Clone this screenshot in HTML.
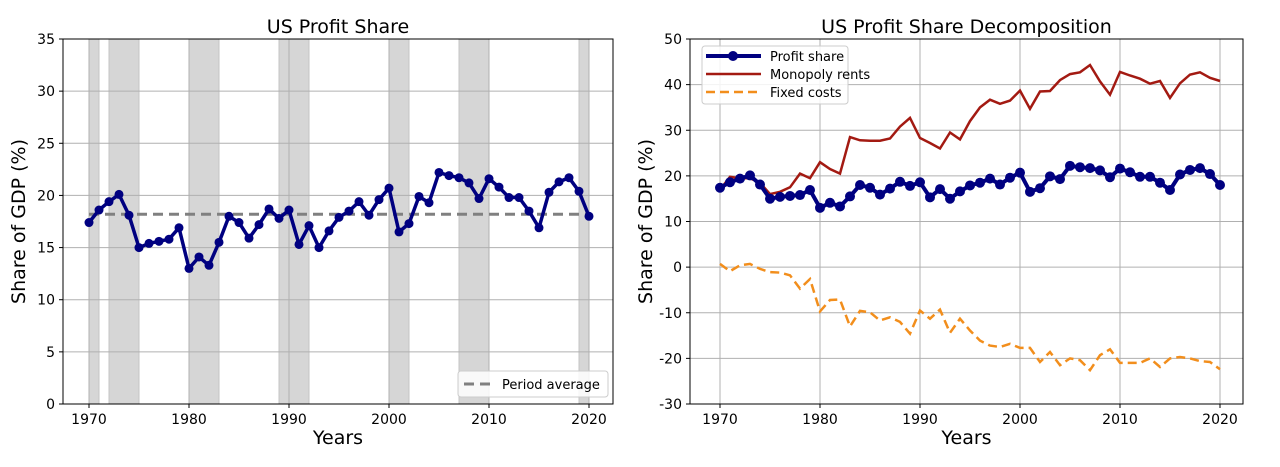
<!DOCTYPE html>
<html><head><meta charset="utf-8"><style>
body{margin:0;background:#fff;}
svg text{font-family:"DejaVu Sans","Liberation Sans",sans-serif;}
</style></head><body>
<svg width="1280" height="462" xmlns="http://www.w3.org/2000/svg">
<g id="left"></g>
<g id="right"></g>
</svg>
<script>
const years = Array.from({length:51},(_,i)=>1970+i);
const profitShare = [17.4,18.6,19.4,20.1,18.1,15.0,15.4,15.6,15.8,16.9,13.0,14.1,13.3,15.5,18.0,17.4,15.9,17.2,18.7,17.8,18.6,15.3,17.1,15.0,16.6,17.9,18.5,19.4,18.1,19.6,20.7,16.5,17.3,19.9,19.3,22.2,21.9,21.7,21.2,19.7,21.6,20.8,19.8,19.8,18.5,16.9,20.3,21.3,21.7,20.4,18.0];
const monopolyRents = [17,19.8,19.5,19.5,18.5,16,16.5,17.5,20.5,19.5,23,21.5,20.5,28.5,27.8,27.7,27.7,28.2,30.8,32.7,28.3,27.2,26,29.5,28,32,35,36.7,35.8,36.5,38.7,34.7,38.5,38.6,41,42.3,42.7,44.3,40.7,37.8,42.8,42,41.3,40.2,40.8,37.1,40.3,42.2,42.7,41.5,40.8];
const fixedCosts = [0.7,-0.9,0.4,0.7,-0.4,-1.1,-1.2,-1.8,-4.7,-2.6,-9.7,-7.2,-7.1,-13,-9.6,-9.9,-11.7,-11,-12,-14.6,-9.5,-11.3,-9.3,-14.4,-11.3,-13.9,-16.1,-17.2,-17.5,-16.8,-17.7,-17.7,-20.8,-18.6,-21.5,-20,-20.4,-22.6,-19.3,-18,-21,-21,-21,-20,-21.9,-20,-19.7,-20,-20.6,-20.8,-22.4];
const recessionStart = [1970,1972,1980,1989,2000,2007,2019];
const recessionEnd = [1971,1975,1983,1992,2002,2010,2020];
const periodAverage = 18.2;
const xTicks = [1970,1980,1990,2000,2010,2020];
const leftYTicks = [0,5,10,15,20,25,30,35];
const rightYTicks = [-30,-20,-10,0,10,20,30,40,50];

const NS="http://www.w3.org/2000/svg";
function mk(parent,tag,attrs,txt){const e=document.createElementNS(NS,tag);for(const k in attrs)e.setAttribute(k,attrs[k]);if(txt!==undefined)e.textContent=txt;parent.appendChild(e);return e;}

function drawAxes(g,L,R,T,B,x0,ymin,ymax,yTicks,title){
  const xs=y=>x0+(y-1970)*10;
  const ys=v=>B-(v-ymin)/(ymax-ymin)*(B-T);
  for(const t of xTicks){
    const l=mk(g,'line',{x1:xs(t),x2:xs(t),y1:T,y2:B,stroke:'#b0b0b0','stroke-width':1});
    
    
    const tk=mk(g,'line',{x1:xs(t),x2:xs(t),y1:B,y2:B+4,stroke:'#000'});
    
    
    const tx=mk(g,'text',{x:xs(t),y:B+20,'font-size':14,'text-anchor':'middle'},String(t));
    
    
  }
  for(const t of yTicks){
    const l=mk(g,'line',{x1:L,x2:R,y1:ys(t),y2:ys(t),stroke:'#b0b0b0','stroke-width':1});
    
    
    const tk=mk(g,'line',{x1:L-4,x2:L,y1:ys(t),y2:ys(t),stroke:'#000'});
    
    
    const tx=mk(g,'text',{x:L-8,y:ys(t)+5,'font-size':14,'text-anchor':'end'},String(t));
    
    
  }
  const tt=mk(g,'text',{x:(L+R)/2,y:T-6,'font-size':19,'text-anchor':'middle'},title);
  
  
  const xl=mk(g,'text',{x:(L+R)/2,y:B+40,'font-size':19,'text-anchor':'middle'},'Years');
  
  
  const yl=mk(g,'text',{x:0,y:0,'font-size':19,'text-anchor':'middle',transform:`translate(${L-38},${(T+B)/2}) rotate(-90)`},'Share of GDP (%)');
  
  
  return {xs,ys};
}
function frame(g,L,R,T,B){
  const f=mk(g,'rect',{x:L,y:T,width:R-L,height:B-T,fill:'none',stroke:'#000','stroke-width':1});
  
  
}
function path(xs,ys,vals){return vals.map((v,i)=>(i?'L':'M')+xs(years[i]).toFixed(1)+','+ys(v).toFixed(1)).join(' ');}

// Left chart
(function(){
  const g=document.getElementById('left');
  const L=63,R=613,T=39,B=404,X0=89;
  const xs0=y=>X0+(y-1970)*10;
  for(let i=0;i<recessionStart.length;i++){
    const r=mk(g,'rect',{x:xs0(recessionStart[i]),y:T,width:xs0(recessionEnd[i])-xs0(recessionStart[i]),height:B-T,fill:'#d6d6d6',stroke:'#c4c4c4'});
    
    
  }
  const {xs,ys}=drawAxes(g,L,R,T,B,X0,0,35,leftYTicks,'US Profit Share');
  const avg=mk(g,'line',{x1:xs(1970),x2:xs(2020),y1:ys(periodAverage),y2:ys(periodAverage),stroke:'#808080','stroke-width':3,'stroke-dasharray':'10,6'});
  
  
  const p=mk(g,'path',{d:path(xs,ys,profitShare),fill:'none',stroke:'#000080','stroke-width':3.5});
  
  
  profitShare.forEach((v,i)=>{
    const c=mk(g,'circle',{cx:xs(years[i]),cy:ys(v),r:4.5,fill:'#000080'});
    
    
  });
  frame(g,L,R,T,B);
  const lg=mk(g,'g',{});
  
  
  mk(lg,'rect',{x:458,y:371,width:150,height:26,rx:3,fill:'#fff','fill-opacity':0.85,stroke:'#ccc'});
  mk(lg,'line',{x1:464,x2:492,y1:384,y2:384,stroke:'#808080','stroke-width':3,'stroke-dasharray':'10,6'});
  const lt=mk(lg,'text',{x:502,y:389,'font-size':13},'Period average');
  
  
})();

// Right chart
(function(){
  const g=document.getElementById('right');
  const L=690,R=1243,T=39,B=404,X0=720;
  const {xs,ys}=drawAxes(g,L,R,T,B,X0,-30,50,rightYTicks,'US Profit Share Decomposition');
  const f=mk(g,'path',{d:path(xs,ys,fixedCosts),fill:'none',stroke:'#f28e1c','stroke-width':2.5,'stroke-dasharray':'9,5'});
  
  
  const m=mk(g,'path',{d:path(xs,ys,monopolyRents),fill:'none',stroke:'#a31a12','stroke-width':2.5});
  
  
  const p=mk(g,'path',{d:path(xs,ys,profitShare),fill:'none',stroke:'#000080','stroke-width':4});
  
  
  profitShare.forEach((v,i)=>{
    const c=mk(g,'circle',{cx:xs(years[i]),cy:ys(v),r:5,fill:'#000080'});
    
    
  });
  frame(g,L,R,T,B);
  const lg=mk(g,'g',{});
  
  
  mk(lg,'rect',{x:702,y:46,width:146,height:58,rx:3,fill:'#fff','fill-opacity':0.85,stroke:'#ccc'});
  mk(lg,'line',{x1:706,x2:761,y1:56,y2:56,stroke:'#000080','stroke-width':4});
  mk(lg,'circle',{cx:733,cy:56,r:5,fill:'#000080'});
  const t1=mk(lg,'text',{x:770,y:61,'font-size':13},'Profit share');
  
  
  mk(lg,'line',{x1:706,x2:761,y1:74,y2:74,stroke:'#a31a12','stroke-width':2.5});
  const t2=mk(lg,'text',{x:770,y:79,'font-size':13},'Monopoly rents');
  
  
  mk(lg,'line',{x1:706,x2:761,y1:92,y2:92,stroke:'#f28e1c','stroke-width':2.5,'stroke-dasharray':'9,5'});
  const t3=mk(lg,'text',{x:770,y:97,'font-size':13},'Fixed costs');
  
  
})();
</script>
</body></html>
